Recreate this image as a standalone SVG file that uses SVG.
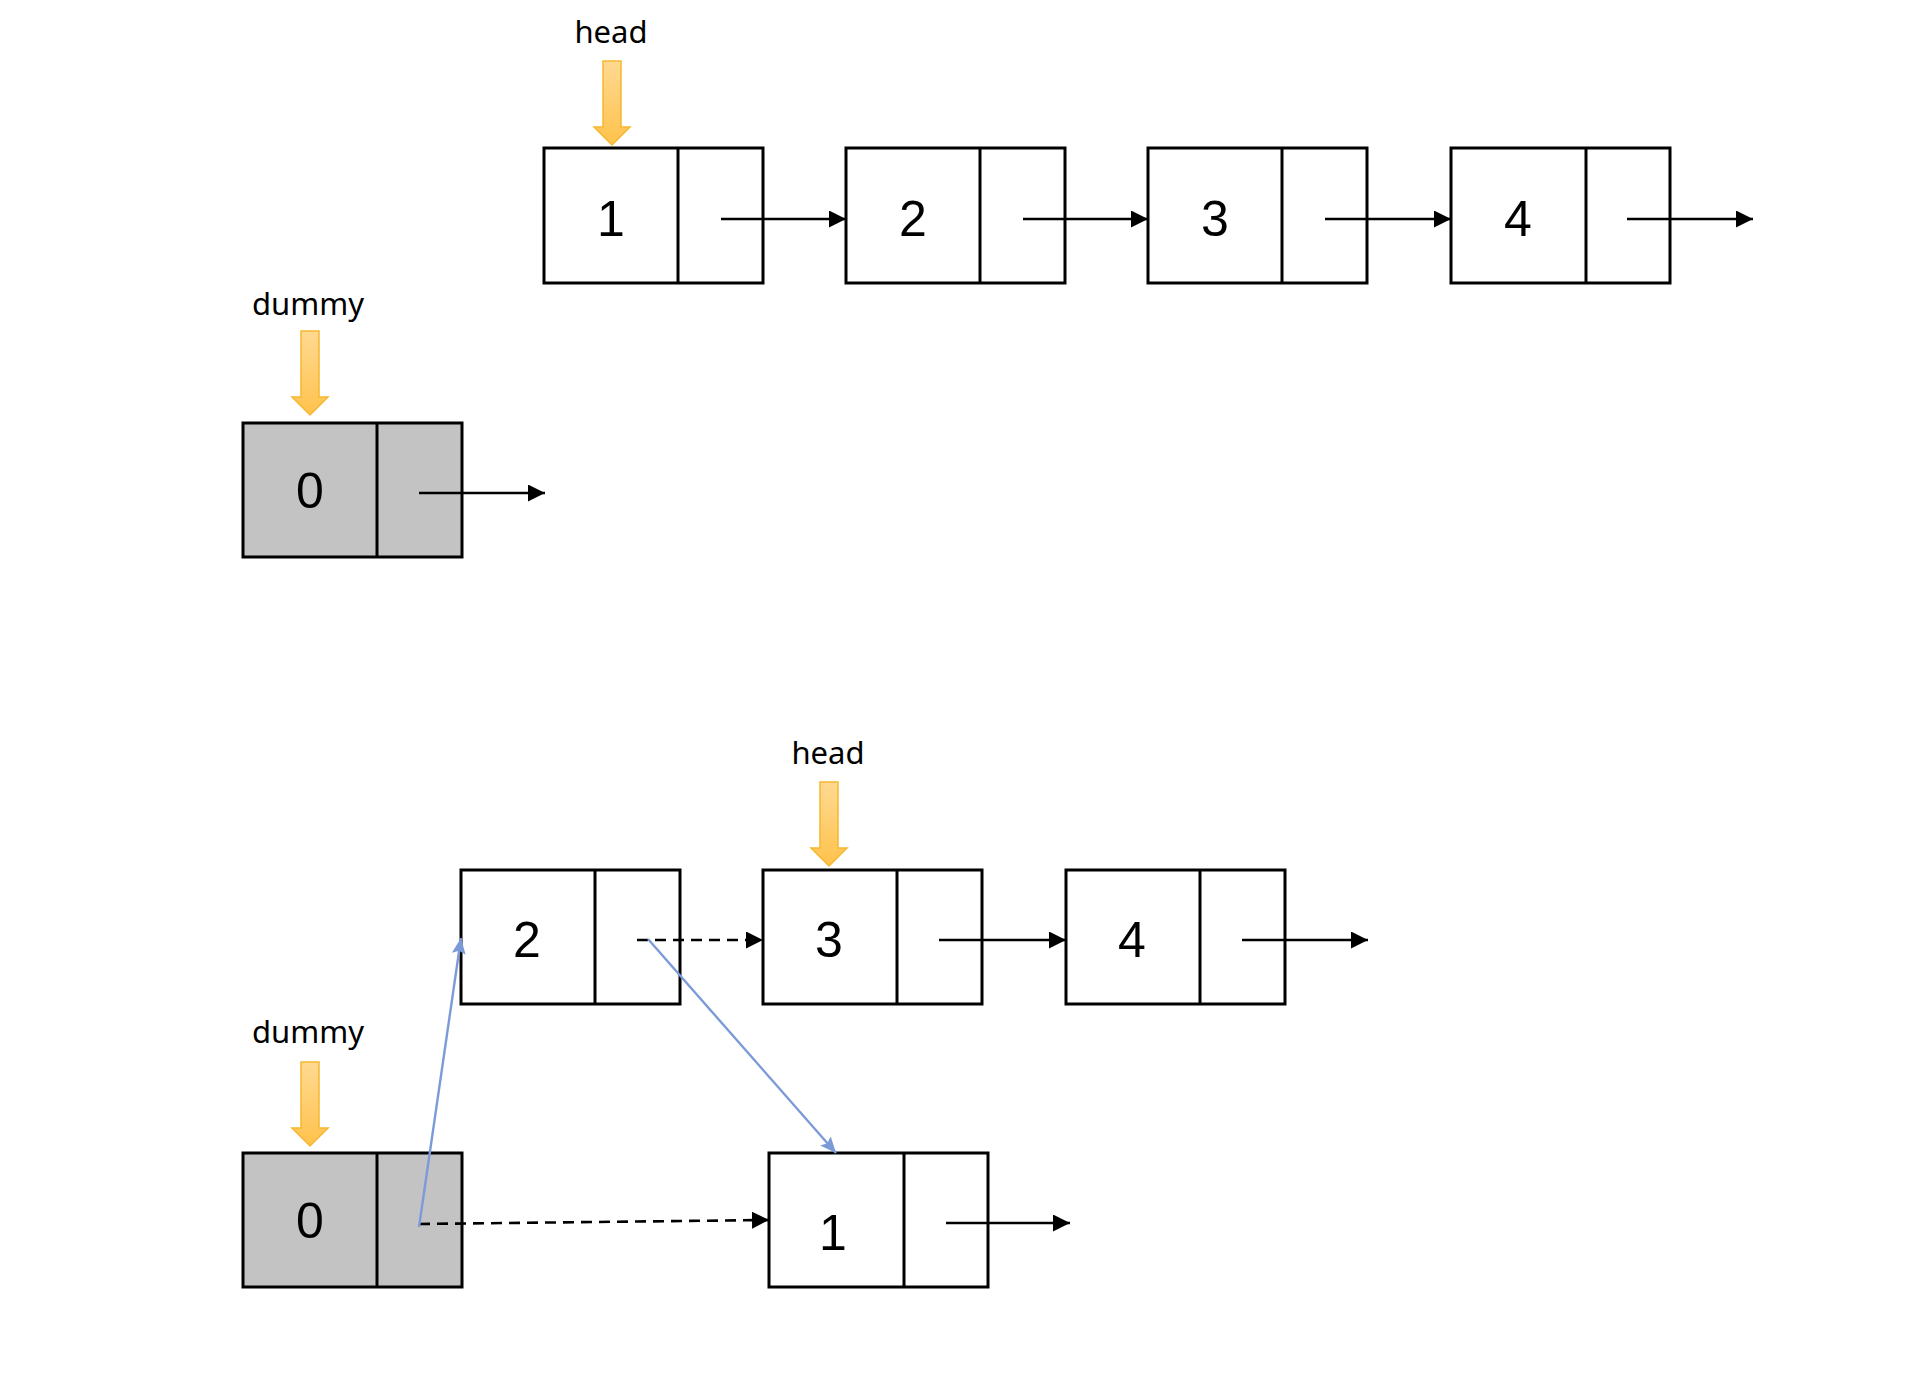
<svg xmlns="http://www.w3.org/2000/svg" width="1924" height="1388" viewBox="0 0 1924 1388">
  <style>
    .box { fill: #ffffff; stroke: #000000; stroke-width: 3; }
    .dummy .box { fill: #C4C3C4; }
    .num { font-family: "Liberation Sans", "Noto Sans", sans-serif; font-size: 50px; text-anchor: middle; fill: #000; }
    .lbl { font-family: "Noto Sans", "Liberation Sans", sans-serif; font-size: 31px; text-anchor: middle; fill: #000; }
    .link { stroke: #000; stroke-width: 2.4; fill: none; marker-end: url(#blk); }
    .dash { stroke-dasharray: 11 7; stroke-width: 2.6; }
    .blue { stroke: #7B9BD8; stroke-width: 2.4; fill: none; marker-end: url(#blu); }
    .ptr { fill: url(#og); stroke: #F6B830; stroke-width: 1.5; }
  </style>
  <defs>
    <marker id="blk" markerUnits="userSpaceOnUse" markerWidth="18" markerHeight="18" refX="17" refY="8.5" orient="auto" viewBox="0 0 18 18">
      <path d="M0,0 L17,8.5 L0,17 z" fill="#000"/>
    </marker>
    <marker id="blu" markerUnits="userSpaceOnUse" markerWidth="18" markerHeight="16" refX="16" refY="7" orient="auto" viewBox="0 0 18 16">
      <path d="M0,0 L16,7 L0,14 L3,7 z" fill="#7B9BD8"/>
    </marker>
    <linearGradient id="og" x1="0" y1="0" x2="0" y2="1">
      <stop offset="0" stop-color="#FFD991"/>
      <stop offset="1" stop-color="#FFC24C"/>
    </linearGradient>
    <path id="down" d="M-9,0 H9 V66 H18 L0,84 L-18,66 H-9 Z"/>
  </defs>

  <!-- pointers -->
  <g id="ptr-head-top"><text class="lbl" x="611" y="43">head</text><use href="#down" class="ptr" x="612" y="61"/></g>
  <g id="ptr-dummy-top"><text class="lbl" x="308" y="315">dummy</text><use href="#down" class="ptr" x="310" y="331"/></g>
  <g id="ptr-head-bottom"><text class="lbl" x="828" y="764">head</text><use href="#down" class="ptr" x="829" y="782"/></g>
  <g id="ptr-dummy-bottom"><text class="lbl" x="308" y="1043">dummy</text><use href="#down" class="ptr" x="310" y="1062"/></g>

  <!-- top list -->
  <g id="t1"><rect class="box" x="544" y="148" width="219" height="135"/><line class="box" x1="678" y1="148" x2="678" y2="283"/><text class="num" x="611" y="236">1</text></g>
  <g id="t2"><rect class="box" x="846" y="148" width="219" height="135"/><line class="box" x1="980" y1="148" x2="980" y2="283"/><text class="num" x="913" y="236">2</text></g>
  <g id="t3"><rect class="box" x="1148" y="148" width="219" height="135"/><line class="box" x1="1282" y1="148" x2="1282" y2="283"/><text class="num" x="1215" y="236">3</text></g>
  <g id="t4"><rect class="box" x="1451" y="148" width="219" height="135"/><line class="box" x1="1586" y1="148" x2="1586" y2="283"/><text class="num" x="1518" y="236">4</text></g>
  <g id="t0" class="dummy"><rect class="box" x="243" y="423" width="219" height="134"/><line class="box" x1="377" y1="423" x2="377" y2="557"/><text class="num" x="310" y="508">0</text></g>

  <!-- bottom list -->
  <g id="b2"><rect class="box" x="461" y="870" width="219" height="134"/><line class="box" x1="595" y1="870" x2="595" y2="1004"/><text class="num" x="527" y="957">2</text></g>
  <g id="b3"><rect class="box" x="763" y="870" width="219" height="134"/><line class="box" x1="897" y1="870" x2="897" y2="1004"/><text class="num" x="829" y="957">3</text></g>
  <g id="b4"><rect class="box" x="1066" y="870" width="219" height="134"/><line class="box" x1="1200" y1="870" x2="1200" y2="1004"/><text class="num" x="1132" y="957">4</text></g>
  <g id="b0" class="dummy"><rect class="box" x="243" y="1153" width="219" height="134"/><line class="box" x1="377" y1="1153" x2="377" y2="1287"/><text class="num" x="310" y="1238">0</text></g>
  <g id="b1"><rect class="box" x="769" y="1153" width="219" height="134"/><line class="box" x1="904" y1="1153" x2="904" y2="1287"/><text class="num" x="833" y="1250">1</text></g>

  <!-- connectors -->
  <g id="connectors">
    <line class="link" x1="721" y1="219" x2="846" y2="219"/>
    <line class="link" x1="1023" y1="219" x2="1148" y2="219"/>
    <line class="link" x1="1325" y1="219" x2="1451" y2="219"/>
    <line class="link" x1="1627" y1="219" x2="1753" y2="219"/>
    <line class="link" x1="419" y1="493" x2="545" y2="493"/>

    <line class="link dash" x1="637" y1="940" x2="763" y2="940"/>
    <line class="link" x1="939" y1="940" x2="1066" y2="940"/>
    <line class="link" x1="1242" y1="940" x2="1368" y2="940"/>
    <line class="link dash" x1="419" y1="1224" x2="769" y2="1220"/>
    <line class="link" x1="946" y1="1223" x2="1070" y2="1223"/>
    <line class="blue" x1="419" y1="1227" x2="461" y2="938"/>
    <line class="blue" x1="648" y1="939" x2="836" y2="1153"/>
  </g>
</svg>
